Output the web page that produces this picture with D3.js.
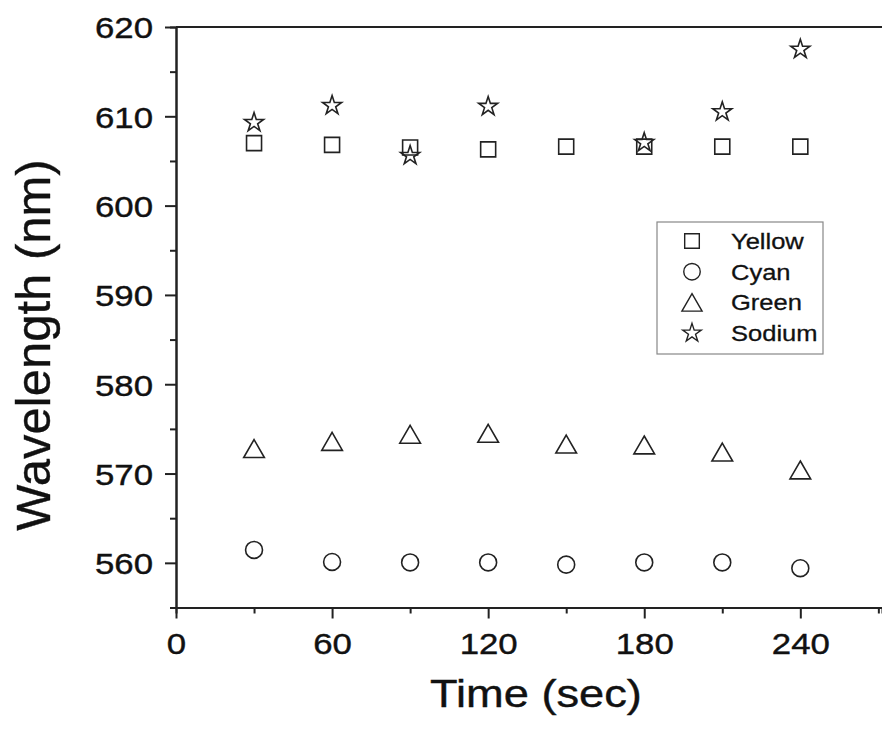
<!DOCTYPE html>
<html>
<head>
<meta charset="utf-8">
<script src="https://cdn.jsdelivr.net/npm/d3@7"></script>
<style>
  html, body { margin: 0; padding: 0; background: #fff; }
  svg { display: block; }
  text { font-family: "Liberation Sans", Arial, sans-serif; fill: #111; }
</style>
</head>
<body>
<svg id="chart" width="882" height="731"></svg>
<script>
// ---- data ----
const time = [30, 60, 90, 120, 150, 180, 210, 240];
const yellow = [607.0, 606.8, 606.5, 606.3, 606.6, 606.6, 606.6, 606.6];
const cyan = [561.45, 560.1, 560.05, 560.05, 559.8, 560.05, 560.05, 559.4];
const green = [572.8, 573.6, 574.4, 574.5, 573.3, 573.2, 572.4, 570.4];
const sodium = [609.3, 611.2, 605.6, 611.1, null, 607.05, 610.5, 617.5];
const seriesNames = ["Yellow", "Cyan", "Green", "Sodium"];
const xMajorTicks = [0, 60, 120, 180, 240];
const xMinorTicks = [30, 90, 150, 210, 270];
const yMajorTicks = [560, 570, 580, 590, 600, 610, 620];
const yMinorTicks = [555, 565, 575, 585, 595, 605, 615];
const xTitle = "Time (sec)";
const yTitle = "Wavelength (nm)";

// ---- layout ----
const svg = d3.select("#chart");
const ink = "#222";
const stretch = 1.16;
const x = d3.scaleLinear().domain([0, 271.4]).range([176, 882]);
const y = d3.scaleLinear().domain([555, 620]).range([607.5, 27]);

// bounding-box centred triangle
const bboxTriangle = {
  draw(ctx, size) {
    const s = Math.sqrt(size * 4 / Math.sqrt(3));
    const h = s * Math.sqrt(3) / 2;
    ctx.moveTo(0, -h / 2);
    ctx.lineTo(s / 2, h / 2);
    ctx.lineTo(-s / 2, h / 2);
    ctx.closePath();
  }
};
const symbolDefs = {
  Yellow: { type: d3.symbolSquare, size: 225 },
  Cyan: { type: d3.symbolCircle, size: 225 },
  Green: { type: bboxTriangle, size: 185 },
  Sodium: { type: d3.symbolStar, size: 112 }
};
const seriesData = { Yellow: yellow, Cyan: cyan, Green: green, Sodium: sodium };

// ---- top border ----
svg.append("line")
  .attr("x1", x.range()[0]).attr("x2", x.range()[1])
  .attr("y1", y.range()[1]).attr("y2", y.range()[1])
  .attr("stroke", ink).attr("stroke-width", 2);

// ---- axes ----
const gx = svg.append("g").attr("transform", `translate(0,${y.range()[0]})`);
gx.call(d3.axisBottom(x).tickValues(xMinorTicks).tickSize(6).tickFormat(""));
const gxMaj = svg.append("g").attr("transform", `translate(0,${y.range()[0]})`);
gxMaj.call(d3.axisBottom(x).tickValues(xMajorTicks).tickSize(11).tickSizeOuter(0).tickFormat(d3.format("d")));
gxMaj.selectAll("text")
  .attr("y", 46.5).attr("dy", 0)
  .attr("transform", `scale(${stretch},1)`)
  .style("font-size", "30px");

const gy = svg.append("g").attr("transform", `translate(${x.range()[0]},0)`);
gy.call(d3.axisLeft(y).tickValues(yMinorTicks).tickSize(6).tickFormat(""));
const gyMaj = svg.append("g").attr("transform", `translate(${x.range()[0]},0)`);
gyMaj.call(d3.axisLeft(y).tickValues(yMajorTicks).tickSize(11).tickSizeOuter(0).tickFormat(d3.format("d")));
gyMaj.selectAll("text")
  .attr("x", -23 / stretch).attr("dy", "0.36em")
  .attr("transform", `scale(${stretch},1)`)
  .style("font-size", "30px");

svg.selectAll(".domain, .tick line").attr("stroke", ink).attr("stroke-width", 2);
svg.selectAll(".tick text").attr("fill", "#111")
  .attr("stroke", "#111").attr("stroke-width", 0.4)
  .style("font-family", "'Liberation Sans', Arial, sans-serif");

// ---- axis titles ----
svg.append("text")
  .attr("transform", `translate(536,707) scale(${stretch},1)`)
  .attr("text-anchor", "middle")
  .attr("stroke", "#111").attr("stroke-width", 0.4)
  .style("font-size", "39px")
  .text(xTitle);
svg.append("text")
  .attr("transform", "translate(50,345) rotate(-90)")
  .attr("text-anchor", "middle")
  .attr("stroke", "#111").attr("stroke-width", 0.4)
  .style("font-size", "49px")
  .text(yTitle);

// ---- markers ----
seriesNames.forEach(name => {
  const def = symbolDefs[name];
  const pts = time.map((t, i) => ({ t, v: seriesData[name][i] })).filter(d => d.v != null);
  svg.append("g").selectAll("path").data(pts).join("path")
    .attr("transform", d => `translate(${x(d.t)},${y(d.v)})`)
    .attr("d", d3.symbol().type(def.type).size(def.size))
    .attr("fill", "none").attr("stroke", ink).attr("stroke-width", 1.6);
});

// ---- legend ----
const legend = svg.append("g");
legend.append("rect")
  .attr("x", 657).attr("y", 222).attr("width", 166).attr("height", 132)
  .attr("fill", "#fff").attr("stroke", "#888").attr("stroke-width", 1.2);
seriesNames.forEach((name, i) => {
  const cy = 241 + i * 30.7;
  const def = symbolDefs[name];
  legend.append("path")
    .attr("transform", `translate(692,${cy})`)
    .attr("d", d3.symbol().type(def.type).size(def.size * 0.95))
    .attr("fill", "none").attr("stroke", ink).attr("stroke-width", 1.4);
  legend.append("text")
    .attr("transform", `translate(731,${cy + 8}) scale(${stretch},1)`)
    .attr("stroke", "#111").attr("stroke-width", 0.3)
    .style("font-size", "22px")
    .text(name);
});
</script>
</body>
</html>
